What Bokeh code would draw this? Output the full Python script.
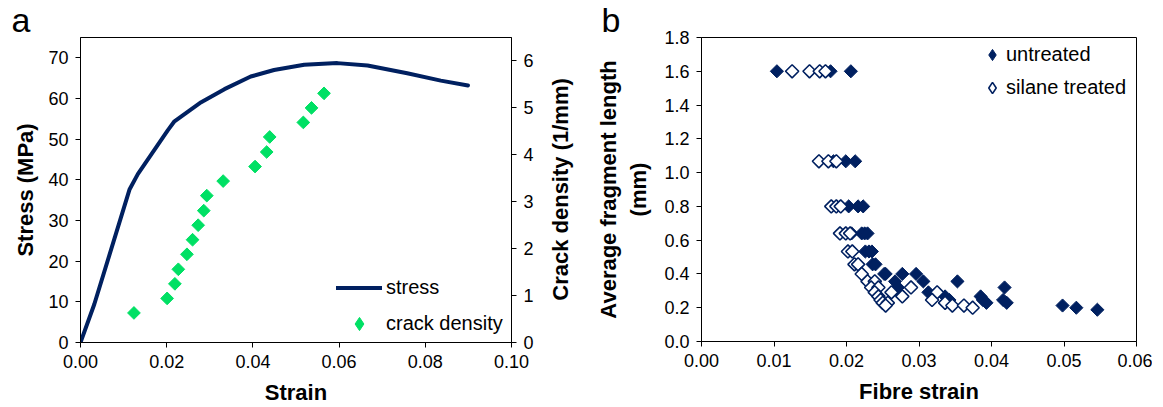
import math
from bokeh.plotting import figure
from bokeh.models import (Range1d, LinearAxis, FixedTicker, NumeralTickFormatter,
                          Legend, LegendItem, Title)
from bokeh.layouts import row
from bokeh.embed import file_html
from bokeh.resources import INLINE

FONT = "Liberation Sans"
NAVY = "#002060"
GREEN = "#00E064"
NAN = float("nan")

# ---- panel a data ----
strain_stress = [0.0, 0.0032, 0.0114, 0.0133, 0.0202, 0.0218, 0.0280, 0.0334, 0.0395,
                 0.0449, 0.0519, 0.0596, 0.0666, 0.0758, 0.0836, 0.0899]
stress = [0.0, 9.4, 37.7, 41.4, 52.1, 54.4, 59.1, 62.3, 65.4, 67.0, 68.3, 68.7, 68.1,
          66.2, 64.4, 63.2]
strain_crack = [0.0124, 0.0201, 0.0219, 0.0227, 0.0247, 0.0260, 0.0273, 0.0286, 0.0293,
                0.0331, 0.0405, 0.0432, 0.0439, 0.0517, 0.0536, 0.0565]
crack_density = [0.63, 0.94, 1.25, 1.56, 1.88, 2.19, 2.50, 2.81, 3.13, 3.44, 3.75, 4.06,
                 4.38, 4.69, 5.00, 5.31]
a_xticks = [0.0, 0.02, 0.04, 0.06, 0.08, 0.10]
a_yticks = [0, 10, 20, 30, 40, 50, 60, 70]
a_y2ticks = [0, 1, 2, 3, 4, 5, 6]

# ---- panel b data ----
untreated_x = [0.0104, 0.0178, 0.0206,
               0.0182, 0.0199, 0.0212,
               0.0203, 0.0216, 0.0223,
               0.0207, 0.0221, 0.0225, 0.0229,
               0.0226, 0.0231, 0.0235,
               0.0236, 0.0240,
               0.0252, 0.0254, 0.0277, 0.0296,
               0.0267, 0.0306, 0.0353,
               0.0271, 0.0418,
               0.0272, 0.0313,
               0.0336, 0.0385,
               0.0342, 0.0388, 0.0416,
               0.0393, 0.0421,
               0.0498, 0.0517, 0.0546]
untreated_y = [1.6, 1.6, 1.6,
               1.067, 1.067, 1.067,
               0.8, 0.8, 0.8,
               0.64, 0.64, 0.64, 0.64,
               0.533, 0.533, 0.533,
               0.457, 0.457,
               0.4, 0.4, 0.4, 0.4,
               0.356, 0.356, 0.356,
               0.32, 0.32,
               0.291, 0.291,
               0.267, 0.267,
               0.246, 0.246, 0.246,
               0.229, 0.229,
               0.213, 0.2, 0.188]
silane_x = [0.0125, 0.0149, 0.0163, 0.0171,
            0.0162, 0.0175, 0.0186,
            0.0179, 0.0186, 0.0192,
            0.0191, 0.0199, 0.0205,
            0.0202, 0.0208,
            0.0211, 0.0216,
            0.0221,
            0.0229, 0.0239,
            0.0234, 0.0244, 0.0289,
            0.0239, 0.0262, 0.0325,
            0.0244, 0.0277,
            0.0247, 0.0318,
            0.0250, 0.0257, 0.0336,
            0.0254, 0.0346, 0.0362,
            0.0374]
silane_y = [1.6, 1.6, 1.6, 1.6,
            1.067, 1.067, 1.067,
            0.8, 0.8, 0.8,
            0.64, 0.64, 0.64,
            0.533, 0.533,
            0.457, 0.457,
            0.4,
            0.356, 0.356,
            0.32, 0.32, 0.32,
            0.291, 0.291, 0.291,
            0.267, 0.267,
            0.246, 0.246,
            0.229, 0.229, 0.229,
            0.213, 0.213, 0.213,
            0.2]
b_xticks = [0.0, 0.01, 0.02, 0.03, 0.04, 0.05, 0.06]
b_yticks = [0.0, 0.2, 0.4, 0.6, 0.8, 1.0, 1.2, 1.4, 1.6, 1.8]


def style_axis(ax, ticks, fmt, label=None):
    ax.ticker = FixedTicker(ticks=ticks)
    ax.formatter = NumeralTickFormatter(format=fmt)
    ax.axis_line_color = "black"
    ax.axis_line_width = 1
    ax.major_tick_line_color = "black"
    ax.major_tick_out = 5
    ax.major_tick_in = 0
    ax.minor_tick_line_color = None
    ax.major_label_text_font = FONT
    ax.major_label_text_font_size = "18px"
    ax.major_label_text_color = "black"
    ax.major_label_standoff = 7
    if label is not None:
        ax.axis_label = label
    ax.axis_label_text_font = FONT
    ax.axis_label_text_font_size = "22px"
    ax.axis_label_text_font_style = "bold"
    ax.axis_label_text_color = "black"


def base_fig(fw, fh, xr, yr, left, right, bottom, tag, tag_offset):
    p = figure(frame_width=fw, frame_height=fh, x_range=xr, y_range=yr,
               output_backend="svg", toolbar_location=None,
               min_border_left=left, min_border_right=right,
               min_border_top=0, min_border_bottom=bottom)
    p.xgrid.visible = False
    p.ygrid.visible = False
    p.outline_line_color = "black"
    p.outline_line_width = 1
    p.background_fill_color = "white"
    p.border_fill_color = "white"
    t = Title(text=tag, align="left", offset=tag_offset, standoff=0,
              text_font=FONT, text_font_size="34px", text_font_style="normal",
              text_color="black", vertical_align="bottom")
    try:
        t.standoff = -3
    except Exception:
        pass
    p.title = t
    return p


# ================= panel a =================
pa = base_fig(431, 305, Range1d(0, 0.1), Range1d(0, 75), 80, 25, 50, "a", -69)
pa.extra_y_ranges = {"cd": Range1d(0, 6.5)}

style_axis(pa.xaxis[0], a_xticks, "0.00", "Strain")
style_axis(pa.yaxis[0], a_yticks, "0", "Stress (MPa)")
pa.xaxis[0].axis_label_standoff = 9
pa.yaxis[0].axis_label_standoff = 7

ra = LinearAxis(y_range_name="cd")
style_axis(ra, a_y2ticks, "0")
pa.add_layout(ra, "right")

l_stress = pa.line(strain_stress, stress, line_width=4, line_color=NAVY,
                   line_join="round", line_cap="round")
pa.scatter(strain_crack, crack_density, y_range_name="cd", marker="square",
           angle=math.pi / 4, size=9, fill_color=GREEN, line_color=GREEN)
# legend key for the crack-density series (holds no data point)
key_crack = pa.scatter([NAN], [NAN], marker="diamond", fill_color=GREEN,
                       line_color=GREEN)

leg_a = Legend(items=[LegendItem(label="stress", renderers=[l_stress]),
                      LegendItem(label="crack density", renderers=[key_crack])],
               location=(256, 2), border_line_color=None, background_fill_alpha=0,
               padding=0, margin=0, glyph_width=46, glyph_height=33, label_height=33,
               label_standoff=4, spacing=3, label_text_font=FONT,
               label_text_font_size="20px", label_text_color="black")
pa.add_layout(leg_a)

# ================= panel b =================
pb = base_fig(435, 304, Range1d(0, 0.06), Range1d(0, 1.8), 165, 16, 50, "b", -100)
style_axis(pb.xaxis[0], b_xticks, "0.00", "Fibre strain")
style_axis(pb.yaxis[0], b_yticks, "0.0", "Average fragment length\n(mm)")
pb.xaxis[0].axis_label_standoff = 9
pb.yaxis[0].axis_label_standoff = 10

# outer axis carrying only the right-hand title of panel a (reads bottom to top)
cd_title_axis = LinearAxis(axis_label="Crack density (1/mm)")
cd_title_axis.ticker = FixedTicker(ticks=[])
cd_title_axis.axis_line_color = None
cd_title_axis.major_tick_line_color = None
cd_title_axis.minor_tick_line_color = None
cd_title_axis.major_label_text_font_size = "0px"
cd_title_axis.axis_label_text_font = FONT
cd_title_axis.axis_label_text_font_size = "22px"
cd_title_axis.axis_label_text_font_style = "bold"
cd_title_axis.axis_label_text_color = "black"
cd_title_axis.axis_label_standoff = 21
pb.add_layout(cd_title_axis, "left")

pb.scatter(untreated_x, untreated_y, marker="square", angle=math.pi / 4, size=9.3,
           fill_color=NAVY, line_color=NAVY, line_width=1)
pb.scatter(silane_x, silane_y, marker="square", angle=math.pi / 4, size=9.3,
           fill_color="white", line_color=NAVY, line_width=1.6)
key_un = pb.scatter([NAN], [NAN], marker="diamond", fill_color=NAVY, line_color=NAVY,
                    line_width=1)
key_si = pb.scatter([NAN], [NAN], marker="diamond", fill_color="white",
                    line_color=NAVY, line_width=1.6)

leg_b = Legend(items=[LegendItem(label="untreated", renderers=[key_un]),
                      LegendItem(label="silane treated", renderers=[key_si])],
               location=(277, 237), border_line_color=None, background_fill_alpha=0,
               padding=0, margin=0, glyph_width=28, glyph_height=33, label_height=33,
               label_standoff=0, spacing=0, label_text_font=FONT,
               label_text_font_size="20px", label_text_color="black")
pb.add_layout(leg_b)

layout = row(pa, pb)
open("out.html", "w").write(file_html(layout, INLINE))
